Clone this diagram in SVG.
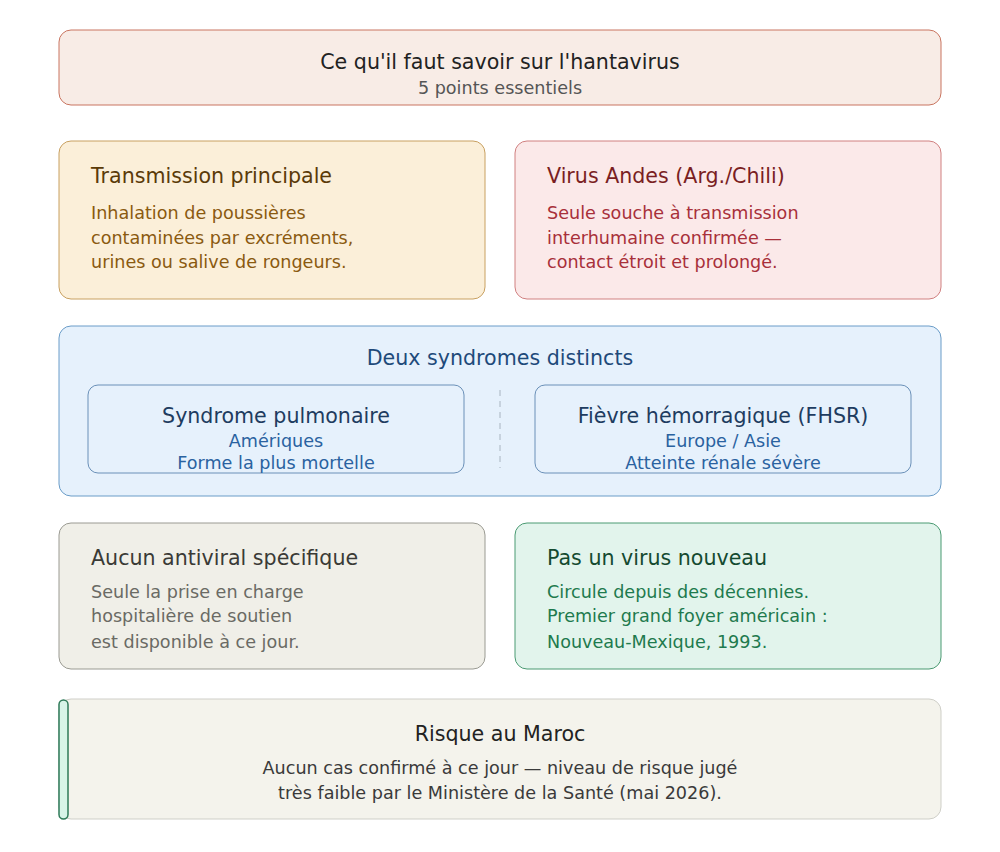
<svg xmlns="http://www.w3.org/2000/svg" width="1000" height="852" viewBox="0 0 1000 852">
<style>
text{font-family:"DejaVu Sans",sans-serif}
.h{font-size:20.6px}
.b{font-size:17.6px}
.m{text-anchor:middle}
</style>
<rect width="1000" height="852" fill="#fff"/>
<g id="title"><rect x="59" y="30" width="882" height="75" rx="12" fill="#f8ece6" stroke="#c97560"/>
<text class="h m" x="500" y="69" fill="#222">Ce qu'il faut savoir sur l'hantavirus</text>
<text class="b m" x="500" y="94" fill="#555">5 points essentiels</text></g>
<g id="transmission"><rect x="59" y="141" width="426" height="158" rx="12" fill="#fbefd9" stroke="#c8a060"/>
<text class="h" x="91" y="183" fill="#5a3a08">Transmission principale</text>
<g class="b" fill="#8a5a10"><text x="91" y="219">Inhalation de poussières</text><text x="91" y="244">contaminées par excréments,</text><text x="91" y="268">urines ou salive de rongeurs.</text></g></g>
<g id="andes"><rect x="515" y="141" width="426" height="158" rx="12" fill="#fbe9e9" stroke="#d08080"/>
<text class="h" x="547" y="183" fill="#7a1e22">Virus Andes (Arg./Chili)</text>
<g class="b" fill="#a8303a"><text x="547" y="219">Seule souche à transmission</text><text x="547" y="244">interhumaine confirmée —</text><text x="547" y="268">contact étroit et prolongé.</text></g></g>
<g id="syndromes"><rect x="59" y="326" width="882" height="170" rx="12" fill="#e6f1fc" stroke="#6a9cc8"/>
<text class="h m" x="500" y="365" fill="#1e4a7a">Deux syndromes distincts</text>
<line x1="500" y1="390" x2="500" y2="468" stroke="#a8b4c0" stroke-dasharray="6 5"/>
<g id="pulmonaire"><rect x="88" y="385" width="376" height="88" rx="10" fill="#e6f1fc" stroke="#6a90b8"/>
<text class="h m" x="276" y="423" fill="#1e3c60">Syndrome pulmonaire</text>
<text class="b m" x="276" y="447" fill="#2a62a0">Amériques</text><text class="b m" x="276" y="469" fill="#2a62a0">Forme la plus mortelle</text></g>
<g id="fhsr"><rect x="535" y="385" width="376" height="88" rx="10" fill="#e6f1fc" stroke="#6a90b8"/>
<text class="h m" x="723" y="423" fill="#1e3c60">Fièvre hémorragique (FHSR)</text>
<text class="b m" x="723" y="447" fill="#2a62a0">Europe / Asie</text><text class="b m" x="723" y="469" fill="#2a62a0">Atteinte rénale sévère</text></g></g>
<g id="antiviral"><rect x="59" y="523" width="426" height="146" rx="12" fill="#f0efe8" stroke="#9a9a92"/>
<text class="h" x="91" y="565" fill="#3a3a36">Aucun antiviral spécifique</text>
<g class="b" fill="#6a6a64"><text x="91" y="598">Seule la prise en charge</text><text x="91" y="622">hospitalière de soutien</text><text x="91" y="648">est disponible à ce jour.</text></g></g>
<g id="nouveau"><rect x="515" y="523" width="426" height="146" rx="12" fill="#e2f4ec" stroke="#4a9a72"/>
<text class="h" x="547" y="565" fill="#144a30">Pas un virus nouveau</text>
<g class="b" fill="#1e7a4e"><text x="547" y="598">Circule depuis des décennies.</text><text x="547" y="622">Premier grand foyer américain :</text><text x="547" y="648">Nouveau-Mexique, 1993.</text></g></g>
<g id="maroc"><rect x="59" y="699" width="882" height="120" rx="12" fill="#f4f3ec" stroke="#cfcfc8"/>
<rect x="59" y="700" width="9" height="119" rx="4.5" fill="#d8f4e8" stroke="#2e7a58" stroke-width="1.5"/>
<text class="h m" x="500" y="741" fill="#222">Risque au Maroc</text>
<text class="b m" x="500" y="774" fill="#3a3a3a">Aucun cas confirmé à ce jour — niveau de risque jugé</text>
<text class="b m" x="500" y="799" fill="#3a3a3a">très faible par le Ministère de la Santé (mai 2026).</text></g>
<g id="connectors"/>
</svg>
